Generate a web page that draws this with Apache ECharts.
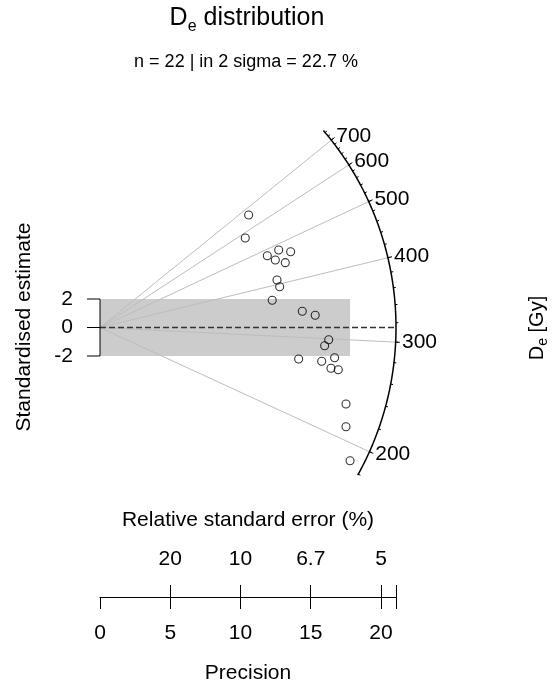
<!DOCTYPE html>
<html>
<head>
<meta charset="utf-8">
<script src="https://cdn.jsdelivr.net/npm/echarts@6/dist/echarts.min.js"></script>
<style>
html,body{margin:0;padding:0;background:#fff;}
#chart{width:553px;height:689px;}
</style>
</head>
<body>
<div id="chart"></div>
<script>
// ---- data ----
const precision   = [10.58, 10.34, 11.91, 12.72, 13.57, 12.48, 13.19, 12.60, 12.79, 12.26, 14.40,
                     15.32, 16.28, 15.99, 14.14, 15.78, 16.70, 16.44, 16.96, 17.51, 17.51, 17.80];
const stdEstimate = [7.89, 6.28, 5.04, 5.44, 5.32, 4.74, 4.55, 3.33, 2.86, 1.91, 1.14,
                     0.86, -0.86, -1.28, -2.21, -2.37, -2.12, -2.86, -2.96, -5.37, -6.96, -9.35];
const centralDe   = 315;                        // De at standardised estimate 0 (Gy)
const majorDe     = [200, 300, 400, 500, 600, 700];
const minorDe     = [180, 200, 220, 240, 260, 280, 300, 320, 340, 360, 380, 400, 420, 440, 460,
                     480, 500, 520, 540, 560, 580, 600, 620, 640, 660, 680, 700, 720, 740];
const arcLimits   = [179, 751];
const arcRadius   = 21.07;
const sigmaBand   = [-2, 2];
const yTicks      = [-2, 0, 2];
const precisionTicks = [0, 5, 10, 15, 20];
const rseTickPos  = [5, 10, 15, 20];

const FONT = "'Liberation Sans', Arial, sans-serif";
const chart = echarts.init(document.getElementById('chart'), null, {renderer: 'canvas'});

function radial(De, rr) {
  const s = Math.log(De / centralDe);
  const x = rr / Math.sqrt(1 + s * s);
  return [x, s * x];
}

const n = precision.length;
const inside = stdEstimate.filter(v => v >= sigmaBand[0] && v <= sigmaBand[1]).length;
const pct = (inside / n * 100).toFixed(1);

const option = {
  animation: false,
  backgroundColor: '#fff',
  grid: {left: 100, right: 157, top: 128, bottom: 162, containLabel: false},
  xAxis: [
    {
      type: 'value', min: 0, max: arcRadius, position: 'bottom', offset: 70,
      splitLine: {show: false},
      axisLine: {show: true, onZero: false, lineStyle: {color: '#000', width: 1}},
      axisTick: {show: true, customValues: precisionTicks.concat([arcRadius]), length: 12,
                 lineStyle: {color: '#000', width: 1}},
      axisLabel: {customValues: precisionTicks, margin: 26, fontSize: 21, color: '#000', fontFamily: FONT}
    },
    {
      type: 'value', min: 0, max: arcRadius, position: 'bottom', offset: 70,
      splitLine: {show: false},
      axisLine: {show: false, onZero: false},
      axisTick: {show: true, inside: true, customValues: rseTickPos.concat([arcRadius]), length: 12,
                 lineStyle: {color: '#000', width: 1}},
      axisLabel: {inside: true, customValues: rseTickPos, margin: 27, fontSize: 21, color: '#000', fontFamily: FONT,
                  formatter: v => String(Number((100 / v).toPrecision(2)))}
    }
  ],
  yAxis: {
    type: 'value', min: -14, max: 14,
    splitLine: {show: false},
    axisLine: {show: false, onZero: false},
    axisTick: {show: false},
    axisLabel: {customValues: yTicks, margin: 27, fontSize: 21, color: '#000', fontFamily: FONT}
  },
  graphic: [
    {type: 'text', x: 247, y: 18.5, silent: true,
     style: {text: '{a|D}{s|e}{a| distribution}', align: 'center', verticalAlign: 'middle',
             rich: {a: {fontSize: 25, fontFamily: FONT, fill: '#000', lineHeight: 32, verticalAlign: 'middle'},
                    s: {fontSize: 16, fontFamily: FONT, fill: '#000', lineHeight: 16, verticalAlign: 'bottom'}}}},
    {type: 'text', x: 246, y: 62.5, silent: true,
     style: {text: 'n = ' + n + ' | in 2 sigma = ' + pct + ' %', align: 'center', verticalAlign: 'middle',
             fontSize: 18, fontFamily: FONT, fill: '#000'}},
    {type: 'text', x: 24, y: 327, rotation: Math.PI / 2, silent: true,
     style: {text: 'Standardised estimate', align: 'center', verticalAlign: 'middle',
             fontSize: 21, fontFamily: FONT, fill: '#000'}},
    {type: 'text', x: 537, y: 328, rotation: Math.PI / 2, silent: true,
     style: {text: '{a|D}{s|e}{a| [Gy]}', align: 'center', verticalAlign: 'middle',
             rich: {a: {fontSize: 20, fontFamily: FONT, fill: '#000', lineHeight: 26, verticalAlign: 'middle'},
                    s: {fontSize: 14, fontFamily: FONT, fill: '#000', lineHeight: 14, verticalAlign: 'bottom'}}}},
    {type: 'text', x: 248, y: 520, silent: true,
     style: {text: 'Relative standard error (%)', align: 'center', verticalAlign: 'middle',
             fontSize: 21, fontFamily: FONT, fill: '#000'}},
    {type: 'text', x: 248, y: 673, silent: true,
     style: {text: 'Precision', align: 'center', verticalAlign: 'middle',
             fontSize: 21, fontFamily: FONT, fill: '#000'}}
  ],
  series: [
    { // 2-sigma band
      type: 'custom', silent: true, clip: false, z: 1,
      data: [[0, 0]],
      renderItem: function (params, api) {
        const p1 = api.coord([0, sigmaBand[1]]);
        const p2 = api.coord([Math.max.apply(null, precision), sigmaBand[0]]);
        return {type: 'rect', shape: {x: p1[0], y: p1[1], width: p2[0] - p1[0], height: p2[1] - p1[1]},
                style: {fill: '#cccccc'}};
      }
    },
    { // rays from origin to major De values
      type: 'custom', silent: true, clip: false, z: 2,
      data: majorDe.map(d => [0, 0, d]),
      renderItem: function (params, api) {
        const p0 = api.coord([0, 0]);
        const p1 = api.coord(radial(api.value(2), arcRadius));
        return {type: 'line', shape: {x1: p0[0], y1: p0[1], x2: p1[0], y2: p1[1]},
                style: {stroke: '#bdbdbd', lineWidth: 1}};
      }
    },
    { // central value dashed line
      type: 'custom', silent: true, clip: false, z: 3,
      data: [[0, 0]],
      renderItem: function (params, api) {
        const p0 = api.coord([0, 0]);
        const p1 = api.coord([arcRadius, 0]);
        return {type: 'line', shape: {x1: p0[0], y1: p0[1], x2: p1[0], y2: p1[1]},
                style: {stroke: '#333', lineWidth: 1.5, lineDash: [6, 3]}};
      }
    },
    { // y axis bracket line
      type: 'custom', silent: true, clip: false, z: 3,
      data: [[0, 0]],
      renderItem: function (params, api) {
        const p0 = api.coord([0, yTicks[0]]);
        const p1 = api.coord([0, yTicks[yTicks.length - 1]]);
        return {type: 'line', shape: {x1: p0[0], y1: p0[1], x2: p1[0], y2: p1[1]},
                style: {stroke: '#000', lineWidth: 1}};
      }
    },
    { // y axis ticks
      type: 'custom', silent: true, clip: false, z: 3,
      data: yTicks.map(v => [0, v]),
      renderItem: function (params, api) {
        const p = api.coord([0, api.value(1)]);
        return {type: 'line', shape: {x1: p[0] - 13, y1: p[1], x2: p[0], y2: p[1]},
                style: {stroke: '#000', lineWidth: 1}};
      }
    },
    { // the De arc
      type: 'custom', silent: true, clip: false, z: 4,
      data: [[0, 0]],
      renderItem: function (params, api) {
        const pts = [];
        const a = Math.log(arcLimits[0]), b = Math.log(arcLimits[1]);
        for (let i = 0; i <= 200; i++) {
          pts.push(api.coord(radial(Math.exp(a + (b - a) * i / 200), arcRadius)));
        }
        return {type: 'polyline', shape: {points: pts}, style: {stroke: '#000', lineWidth: 1.5, fill: null}};
      }
    },
    { // minor ticks on arc
      type: 'custom', silent: true, clip: false, z: 4,
      data: minorDe.map(d => [0, 0, d]),
      renderItem: function (params, api) {
        const p0 = api.coord(radial(api.value(2), arcRadius));
        const p1 = api.coord(radial(api.value(2), arcRadius + 0.17));
        return {type: 'line', shape: {x1: p0[0], y1: p0[1], x2: p1[0], y2: p1[1]},
                style: {stroke: '#000', lineWidth: 1}};
      }
    },
    { // major ticks + labels on arc
      type: 'custom', silent: true, clip: false, z: 4,
      data: majorDe.map(d => [0, 0, d]),
      renderItem: function (params, api) {
        const d = api.value(2);
        const p0 = api.coord(radial(d, arcRadius));
        const p1 = api.coord(radial(d, arcRadius + 0.3));
        const pl = api.coord(radial(d, arcRadius + 0.45));
        return {type: 'group', children: [
          {type: 'line', shape: {x1: p0[0], y1: p0[1], x2: p1[0], y2: p1[1]},
           style: {stroke: '#000', lineWidth: 1}},
          {type: 'text', x: pl[0], y: pl[1],
           style: {text: String(d), fill: '#000', fontSize: 21, fontFamily: FONT,
                   align: 'left', verticalAlign: 'middle'}}
        ]};
      }
    },
    { // data points
      type: 'scatter', z: 10, silent: true,
      symbol: 'circle', symbolSize: 8,
      itemStyle: {color: 'rgba(0,0,0,0)', borderColor: '#000', borderWidth: 1.1},
      data: precision.map((p, i) => [p, stdEstimate[i]])
    }
  ]
};
chart.setOption(option);
</script>
</body>
</html>
